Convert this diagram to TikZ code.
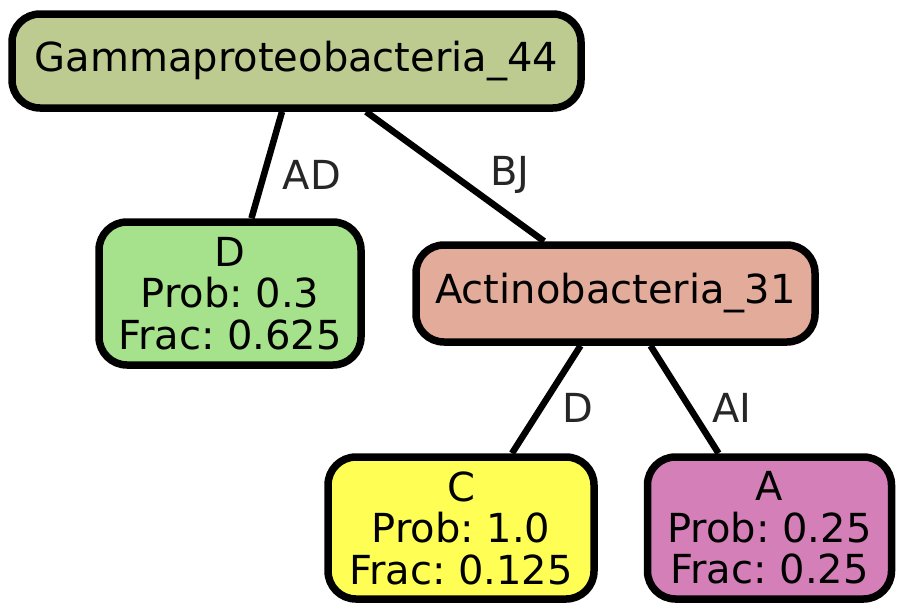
\documentclass[tikz,border=0pt]{standalone}
\usepackage{fontspec}
\setmainfont{DejaVu Sans}
\usetikzlibrary{calc}
\definecolor{cgamma}{HTML}{BDCA90}
\definecolor{cD}{HTML}{A6E18B}
\definecolor{cact}{HTML}{E2AB9A}
\definecolor{cC}{HTML}{FEFE55}
\definecolor{cA}{HTML}{D47FB8}
\definecolor{lbl}{HTML}{262626}
\frenchspacing
\begin{document}
\begin{tikzpicture}[x=1pt,y=-1pt,
  treenode/.style={draw=black,line width=7.5pt,rounded corners=28pt,inner sep=0pt,
    align=center,font=\fontsize{40}{41.5}\selectfont},
  edge/.style={draw=black,line width=6.5pt},
  elabel/.style={text=lbl,inner sep=0pt,font=\fontsize{40}{41.5}\selectfont}]
\useasboundingbox (0,0) rectangle (904,613);
\node[treenode,fill=cgamma,minimum width=569pt,minimum height=94pt] (g) at (296.5,61) {Gammaproteobacteria\_44};
\node[treenode,fill=cD,minimum width=262pt,minimum height=143pt] (d) at (230,293.5) {D\\Prob: 0.3\\Frac: 0.625};
\node[treenode,fill=cact,minimum width=399pt,minimum height=97pt] (act) at (615.5,293.5) {Actinobacteria\_31};
\node[treenode,fill=cC,minimum width=266pt,minimum height=142pt] (c) at (461,528) {C\\Prob: 1.0\\Frac: 0.125};
\node[treenode,fill=cA,minimum width=244pt,minimum height=142pt] (a) at (769.5,528) {A\\Prob: 0.25\\Frac: 0.25};
\draw[edge] (g) -- (d);
\draw[edge] (g) -- (act);
\draw[edge] ($(act.south)+(-35,0)$) -- ($(c.north)+(51,0)$);
\draw[edge] ($(act.south)+(35,0)$) -- ($(a.north)+(-51,0)$);
\node[elabel] (lAD) at (312,175) {AD};
\node[elabel] (lBJ) at (510,175) {BJ};
\node[elabel] (lD) at (578,408) {D};
\node[elabel] (lAI) at (732,408) {AI};
\end{tikzpicture}
\end{document}
